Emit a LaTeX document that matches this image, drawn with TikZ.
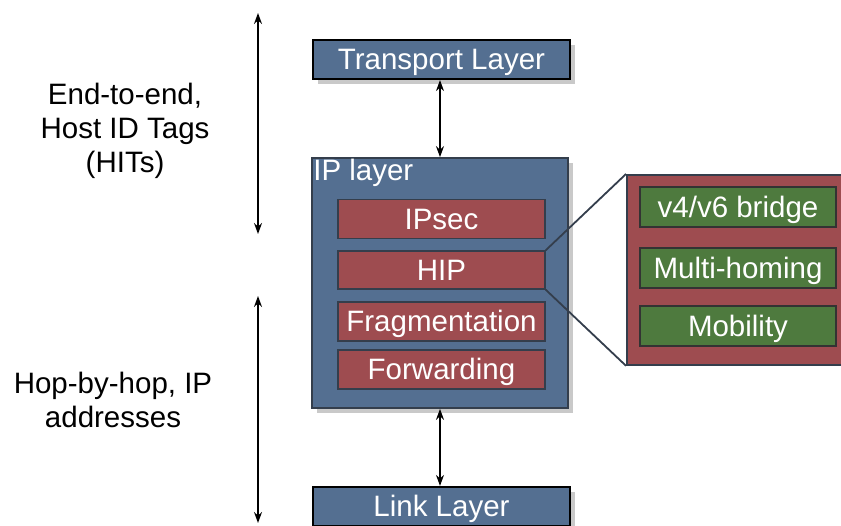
\documentclass[tikz,border=0pt]{standalone}
\usepackage{fontspec}
\setmainfont{Liberation Sans}
\usetikzlibrary{arrows.meta,shadows}
\definecolor{layerblue}{RGB}{84,111,145}
\definecolor{hipred}{RGB}{158,76,80}
\definecolor{featgreen}{RGB}{78,122,62}
\definecolor{edgegrey}{RGB}{52,62,76}
\tikzset{
  boxtext/.style={text=white, text height=20.8pt, text depth=0pt, inner sep=0pt},
  layer/.style={boxtext, draw=black, line width=2.2pt, fill=layerblue,
    minimum width=257pt, minimum height=39pt,
    drop shadow={shadow xshift=5pt, shadow yshift=-5pt, fill=gray!60, opacity=0.7}},
  sub/.style={boxtext, draw=edgegrey, line width=1.5pt, fill=hipred,
    minimum width=207pt, minimum height=39pt},
  feat/.style={boxtext, draw=black!80, line width=1.5pt, fill=featgreen,
    minimum width=196pt, minimum height=40pt},
  twoway/.style={{Stealth[length=11pt,width=8pt]}-{Stealth[length=11pt,width=8pt]}, line width=1.4pt},
}
\begin{document}
\begin{tikzpicture}[x=1pt, y=-1pt, font=\fontsize{29.5}{34}\selectfont]
  \useasboundingbox (0,0) rectangle (841,525);
  % layers
  \node[layer] (transport) at (441.5,59.5) {Transport Layer};
  \node[layer, draw=edgegrey, line width=1.8pt, minimum width=256pt, minimum height=250pt] (ip) at (440,283) {};
  \node[anchor=north west, text=white, inner sep=2pt] (iplabel) at (ip.north west) {IP layer};
  \node[layer] (link) at (441.5,506.5) {Link Layer};
  % parts of the IP layer
  \node[sub] (ipsec) at (441.5,219) {IPsec};
  \node[sub, minimum height=38pt] (hip) at (441.5,270) {HIP};
  \node[sub] (frag) at (441.5,321.5) {Fragmentation};
  \node[sub] (fwd) at (441.5,369.5) {Forwarding};
  % HIP blown up
  \node[draw=edgegrey, line width=1.8pt, fill=hipred, minimum width=220pt, minimum height=190pt,
    anchor=north west, inner sep=0pt] (hipbox) at (626,174) {};
  \node[feat] (bridge) at (738,207) {v4/v6 bridge};
  \node[feat] (multi) at (738,268) {Multi-homing};
  \node[feat] (mob) at (738,326) {Mobility};
  \draw[edgegrey, line width=1.8pt] (hip.north east) -- (hipbox.north west);
  \draw[edgegrey, line width=1.8pt] (hip.south east) -- (hipbox.south west);
  % arrows
  \draw[twoway] (transport.south -| ip.north) -- (ip.north);
  \draw[twoway] (ip.south) -- (ip.south |- link.north);
  \coordinate (e2etop) at (258,13);
  \coordinate (e2ebot) at (258,234);
  \coordinate (hoptop) at (258,296);
  \coordinate (hopbot) at (258,523);
  \draw[twoway] (e2etop) -- (e2ebot);
  \draw[twoway] (hoptop) -- (hopbot);
  \node[align=center] (e2e) at (125,131) {End-to-end,\\Host ID Tags\\(HITs)};
  \node[align=center] (hop) at (113,400) {Hop-by-hop, IP\\addresses};
\end{tikzpicture}
\end{document}
